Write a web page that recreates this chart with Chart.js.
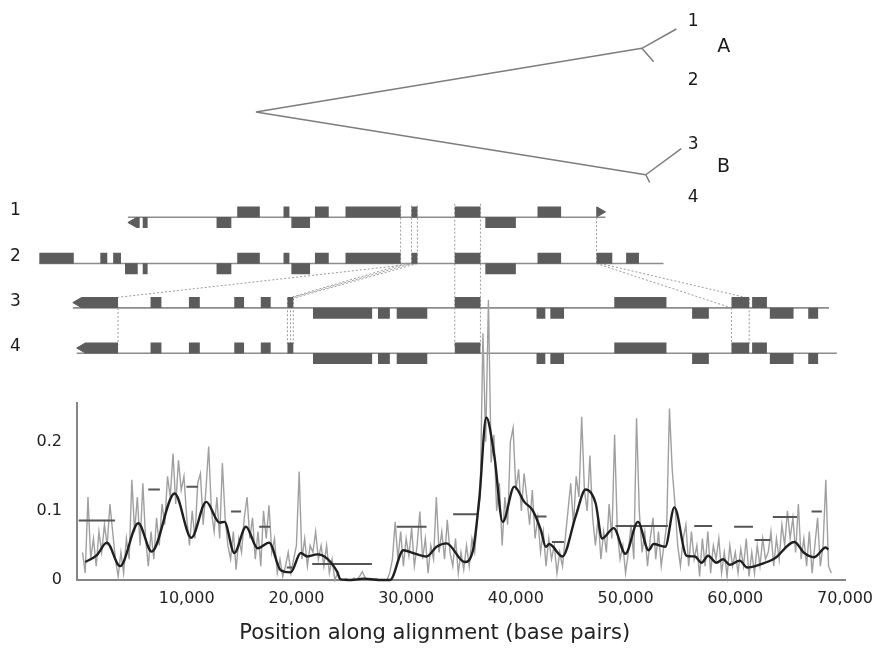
<!DOCTYPE html>
<html>
<head>
<meta charset="utf-8">
<script src="https://cdn.jsdelivr.net/npm/chart.js@4.4.1/dist/chart.umd.min.js"></script>
<style>
  html, body { margin: 0; padding: 0; background: #fff; }
  #wrap { position: relative; width: 882px; height: 649px; overflow: hidden; }
  #mapChart { position: absolute; left: 0; top: 0; }
  #divChart { position: absolute; left: 0; top: 290px; }
</style>
</head>
<body>
<div id="wrap">
  <canvas id="mapChart" width="882" height="390"></canvas>
  <canvas id="divChart" width="882" height="359"></canvas>
</div>
<script>
// divergence along the alignment
const xTicks = [10000, 20000, 30000, 40000, 50000, 60000, 70000];
const yTicks = [0, 0.1, 0.2];

// per-window divergence, windows every 250 bp starting at 500 bp
const rawStart = 500;
const rawStep = 250;
const rawDivergence = [
  .04, .01, .12, .03, .06, .02, .07, .04, .08, .05, .11, .07, .03, .005, .04, .01, .06, .03, .145, .07,
  .12, .05, .14, .06, .02, .07, .03, .09, .05, .11, .08, .15, .12, .183, .11, .173, .13, .15, .09, .05,
  .1, .06, .14, .154, .08, .13, .193, .1, .07, .12, .06, .169, .09, .05, .03, .07, .015, .06, .04, .09,
  .12, .06, .09, .03, .07, .02, .1, .06, .108, .04, .06, .01, .03, .005, .02, .04, .01, .03, .05, .157,
  .03, .06, .02, .05, .04, .07, .03, .05, .02, .05, .01, .03, 0, .01, 0, 0, .002, 0, 0, .003,
  0, .005, .012, .004, 0, 0, 0, .002, 0, 0, 0, 0, .01, .03, .084, .03, .07, .02, .06, .035,
  .075, .02, .05, .099, .03, .06, .01, .05, .03, .12, .04, .07, .03, .087, .04, .02, .06, .01, .04, .015,
  .05, .02, .06, .04, .09, .12, .357, .2, .405, .17, .21, .1, .14, .05, .12, .08, .2, .22, .13, .16,
  .1, .154, .12, .08, .13, .06, .09, .04, .07, .02, .06, .03, .05, .01, .04, .02, .06, .1, .14, .08,
  .15, .12, .236, .13, .1, .18, .09, .05, .09, .03, .07, .04, .11, .06, .21, .07, .03, .05, .01, .04,
  .08, .03, .234, .1, .04, .07, .02, .06, .09, .03, .07, .02, .05, .08, .248, .16, .11, .05, .02, .06,
  .08, .02, .07, .03, .05, .005, .06, .02, .07, .01, .05, .03, .06, .01, .04, .005, .05, .02, .04, .01,
  .045, .02, .06, .005, .04, .01, .05, .02, .06, .03, .04, .07, .02, .06, .03, .08, .05, .1, .06, .09,
  .04, .11, .03, .06, .02, .07, .01, .05, .09, .02, .05, .145, .02, .01
];

// smoothed divergence
const smoothPos = [750, 1810, 2720, 3920, 5590, 6800, 8900, 10420, 11780, 12990, 13440, 14340, 15400, 16460,
  17510, 18570, 19480, 20390, 20990, 21900, 22800, 23710, 24010, 25000, 26120, 27500, 28540, 29750, 30650,
  31860, 32770, 33680, 35330, 36090, 36680, 37300, 38050, 38800, 39860, 40770, 41520, 42280, 42730, 43040,
  44240, 45450, 46360, 47270, 47860, 48920, 49980, 51130, 52100, 52550, 53610, 54450, 55570, 56320, 56920,
  57530, 58280, 58890, 59490, 60400, 61090, 62360, 63570, 65380, 66290, 67200, 68250, 68470];
const smoothDiv = [.026, .036, .054, .020, .082, .041, .125, .061, .113, .083, .084, .039, .077, .046,
  .054, .014, .011, .039, .034, .037, .031, .012, .001, 0, .002, 0, 0, .043, .039,
  .034, .048, .053, .026, .043, .12, .235, .178, .084, .135, .113, .101, .072, .048, .052,
  .034, .092, .131, .111, .060, .075, .038, .084, .043, .052, .048, .105, .035, .034, .025,
  .035, .025, .030, .022, .028, .018, .023, .031, .055, .039, .033, .047, .044];

// mean divergence per gene region
const regionStart = [150, 6500, 9970, 14040, 16610, 19120, 21440, 29140, 34280, 41830, 43280, 49080, 56260, 59890, 61760, 63420, 66950];
const regionEnd = [3470, 7550, 11020, 14950, 17600, 19630, 26880, 31860, 36540, 42790, 44390, 53850, 57890, 61610, 63210, 65620, 67890];
const regionDiv = [.086, .131, .135, .099, .077, .018, .023, .077, .095, .092, .055, .078, .078, .077, .058, .091, .099];

// gene maps, kb along the alignment: [start, end, strand]
const genomeNames = ['1', '2', '3', '4'];
const genomeStart = [4.35, -3.8, -0.72, -0.36];
const genomeEnd = [48.27, 53.61, 68.83, 69.55];
const genes1 = [[5.14, 5.43, -1], [5.71, 6.16, -1], [12.5, 13.86, -1], [14.4, 16.48, 1], [18.66, 19.2, 1], [19.38, 21.1, -1],
  [21.55, 22.82, 1], [24.36, 29.43, 1], [30.43, 30.97, 1], [34.41, 36.77, 1], [37.22, 40.03, -1], [42.02, 44.19, 1]];
const genes2 = [[-3.8, -0.63, 1], [1.81, 2.45, 1], [2.99, 3.71, 1], [4.08, 5.25, -1], [5.71, 6.16, -1], [12.5, 13.86, -1],
  [14.4, 16.48, 1], [18.66, 19.2, 1], [19.38, 21.1, -1], [21.55, 22.82, 1], [24.36, 29.43, 1], [30.43, 30.97, 1],
  [34.41, 36.77, 1], [37.22, 40.03, -1], [42.02, 44.19, 1], [47.45, 48.9, 1], [50.17, 51.35, 1]];
const genes3 = [[0.07, 3.44, 1], [6.43, 7.43, 1], [9.96, 10.96, 1], [14.13, 15.03, 1], [16.57, 17.48, 1], [19.02, 19.56, 1],
  [21.37, 26.81, -1], [27.35, 28.44, -1], [29.07, 31.88, -1], [34.41, 36.77, 1], [41.93, 42.74, -1], [43.2, 44.46, -1],
  [49.08, 53.88, 1], [56.24, 57.78, -1], [59.86, 61.49, 1], [61.76, 63.12, 1], [63.39, 65.57, -1], [66.92, 67.83, -1]];
const genes4 = [[0.43, 3.44, 1], [6.43, 7.43, 1], [9.96, 10.96, 1], [14.13, 15.03, 1], [16.57, 17.48, 1], [19.02, 19.56, 1],
  [21.37, 26.81, -1], [27.35, 28.44, -1], [29.07, 31.88, -1], [34.41, 36.77, 1], [41.93, 42.74, -1], [43.2, 44.46, -1],
  [49.08, 53.88, 1], [56.24, 57.78, -1], [59.86, 61.49, 1], [61.76, 63.12, 1], [63.39, 65.57, -1], [66.92, 67.83, -1]];
// pointed gene ends: genome index, tip position, direction, strand
const arrowGenome = [0, 0, 2, 3];
const arrowTip = [4.35, 48.27, -0.72, -0.36];
const arrowDir = [-1, 1, -1, -1];
const arrowStrand = [-1, 1, 1, 1];

// dotted links between homologous blocks: [x1, y1, x2, y2]
const links = [
  [29.43, 20.6, 29.43, 26.6], [30.43, 20.6, 30.43, 26.6], [30.97, 20.6, 30.97, 26.6],
  [34.41, 20.4, 34.41, 35.2], [36.77, 20.4, 36.77, 35.2], [47.45, 21.8, 47.45, 26.6],
  [30.97, 26.6, 3.44, 30.1], [29.9, 26.6, 19.02, 30.2], [30.43, 26.6, 19.3, 30.2], [30.97, 26.6, 19.56, 30.2],
  [47.45, 26.6, 59.86, 31.2], [47.8, 26.6, 61.49, 30.2],
  [3.44, 31.2, 3.44, 35.0], [19.02, 30.2, 19.02, 35.0], [19.3, 30.2, 19.3, 35.0], [19.56, 30.2, 19.56, 35.0],
  [59.86, 31.2, 59.86, 35.0], [61.49, 30.2, 61.49, 35.0]
];

// tree: node depth and vertical slot, edges between nodes
const treeDepth = [16.12, 51.62, 54.79, 52.7, 51.98, 55.24, 52.34];
const treeSlot = [10.9, 4.3, 2.3, 5.7, 17.4, 14.7, 18.2];
const treeFrom = [0, 1, 1, 0, 4, 4];
const treeTo = [1, 2, 3, 4, 5, 6];

Chart.defaults.font.family = "'DejaVu Sans', 'Liberation Sans', sans-serif";
Chart.defaults.color = '#222';

const rowY = [21.8, 26.6, 31.2, 35.9];
const blockOffset = 0.55;
const arrowHalf = 0.53;
const allGenes = [genes1, genes2, genes3, genes4];

function segments(list) {
  const pts = [];
  list.forEach(s => pts.push({x: s[0], y: s[1]}, {x: s[2], y: s[3]}, {x: s[2], y: null}));
  return pts;
}

const blockPts = [];
allGenes.forEach((list, r) => list.forEach(g => {
  const yc = rowY[r] - g[2] * blockOffset;
  blockPts.push({x: g[0], y: yc}, {x: g[1], y: yc}, {x: g[1], y: null});
}));
const arrowPts = arrowTip.map((t, i) => ({x: t - arrowDir[i] * arrowHalf, y: rowY[arrowGenome[i]] - arrowStrand[i] * blockOffset}));
const rowPts = segments(genomeStart.map((s, i) => [s, rowY[i], genomeEnd[i], rowY[i]]));
const treePts = segments(treeFrom.map((f, i) => [treeDepth[f], treeSlot[f], treeDepth[treeTo[i]], treeSlot[treeTo[i]]]));

const textLabels = {
  id: 'textLabels',
  afterDatasetsDraw(chart, args, opts) {
    const {ctx} = chart;
    const x = chart.scales.x, y = chart.scales.y;
    ctx.save();
    ctx.fillStyle = opts.color;
    ctx.textAlign = 'center';
    ctx.textBaseline = 'middle';
    opts.items.forEach(it => {
      ctx.font = it.size + "px 'DejaVu Sans', sans-serif";
      ctx.fillText(it.text, x.getPixelForValue(it.x), y.getPixelForValue(it.y));
    });
    ctx.restore();
  }
};

const mapLabels = [
  {text: '1', x: 56.33, y: 1.5, size: 17}, {text: '2', x: 56.33, y: 7.6, size: 17},
  {text: 'A', x: 59.14, y: 4.2, size: 19},
  {text: '3', x: 56.33, y: 14.3, size: 17}, {text: '4', x: 56.33, y: 19.8, size: 17},
  {text: 'B', x: 59.14, y: 16.6, size: 19}
].concat(genomeNames.map((n, i) => ({text: n, x: -6.0, y: rowY[i] - 0.7, size: 17})));

new Chart(document.getElementById('mapChart'), {
  type: 'scatter',
  data: {
    datasets: [
      {data: blockPts, showLine: true, borderColor: '#5c5c5c', borderWidth: 11, borderCapStyle: 'butt', pointRadius: 0, clip: false},
      {data: arrowPts, showLine: false, pointStyle: 'triangle', pointRadius: 5.8, backgroundColor: '#5c5c5c', borderColor: '#5c5c5c', borderWidth: 1,
        rotation: c => arrowDir[c.dataIndex] > 0 ? 90 : 270, clip: false},
      {data: segments(links), showLine: true, borderColor: '#9a9a9a', borderWidth: 1, borderDash: [2, 2], pointRadius: 0, clip: false},
      {data: rowPts, showLine: true, borderColor: '#8c8c8c', borderWidth: 1.6, pointRadius: 0, clip: false},
      {data: treePts, showLine: true, borderColor: '#7d7d7d', borderWidth: 1.5, pointRadius: 0, clip: false}
    ]
  },
  options: {
    responsive: false,
    animation: false,
    events: [],
    layout: {padding: 0},
    scales: {
      x: {type: 'linear', display: false, min: -6.792, max: 73.08},
      y: {type: 'linear', display: false, min: 0, max: 39, reverse: true}
    },
    plugins: {
      legend: {display: false},
      tooltip: {enabled: false},
      textLabels: {color: '#1a1a1a', items: mapLabels}
    }
  },
  plugins: [textLabels]
});

const axisCaption = {
  id: 'axisCaption',
  afterDraw(chart, args, opts) {
    const {ctx} = chart;
    ctx.save();
    ctx.font = opts.size + "px 'DejaVu Sans', sans-serif";
    ctx.fillStyle = opts.color;
    ctx.textAlign = 'center';
    ctx.textBaseline = 'alphabetic';
    ctx.fillText(opts.text, chart.scales.x.getPixelForValue(opts.at), chart.height - opts.bottom);
    ctx.restore();
  }
};

const rawPts = rawDivergence.map((v, i) => ({x: rawStart + i * rawStep, y: v}));
const smoothPts = smoothPos.map((p, i) => ({x: p, y: smoothDiv[i]}));
const regionPts = segments(regionStart.map((s, i) => [s, regionDiv[i], regionEnd[i], regionDiv[i]]));

new Chart(document.getElementById('divChart'), {
  type: 'scatter',
  data: {
    datasets: [
      {data: smoothPts, showLine: true, borderColor: '#1f1f1f', borderWidth: 2.4, pointRadius: 0, cubicInterpolationMode: 'monotone', clip: false},
      {data: regionPts, showLine: true, borderColor: '#555', borderWidth: 2, pointRadius: 0, clip: false},
      {data: rawPts, showLine: true, borderColor: '#a0a0a0', borderWidth: 1.4, pointRadius: 0, clip: false}
    ]
  },
  options: {
    responsive: false,
    animation: false,
    events: [],
    layout: {padding: {top: 113, right: 32, left: 0, bottom: 0}},
    scales: {
      x: {
        type: 'linear', min: 0, max: 70000,
        grid: {display: false, drawTicks: false},
        border: {display: true, color: '#858585', width: 2},
        ticks: {color: '#222', font: {size: 16}, padding: 9, maxRotation: 0, autoSkip: false,
          callback: v => v.toLocaleString('en-US')},
        afterBuildTicks: s => { s.ticks = xTicks.map(v => ({value: v})); },
        afterFit: s => { s.height = 69; }
      },
      y: {
        type: 'linear', min: 0, max: 0.256,
        grid: {display: false, drawTicks: false},
        border: {display: true, color: '#858585', width: 2},
        ticks: {color: '#222', font: {size: 16}, padding: 15,
          callback: v => v === 0 ? '0' : v.toFixed(1)},
        afterBuildTicks: s => { s.ticks = yTicks.map(v => ({value: v})); },
        afterFit: s => { s.width = 77; }
      }
    },
    plugins: {
      legend: {display: false},
      tooltip: {enabled: false},
      axisCaption: {text: 'Position along alignment (base pairs)', at: 32600, bottom: 10, size: 21, color: '#222'}
    }
  },
  plugins: [axisCaption]
});
</script>
</body>
</html>
